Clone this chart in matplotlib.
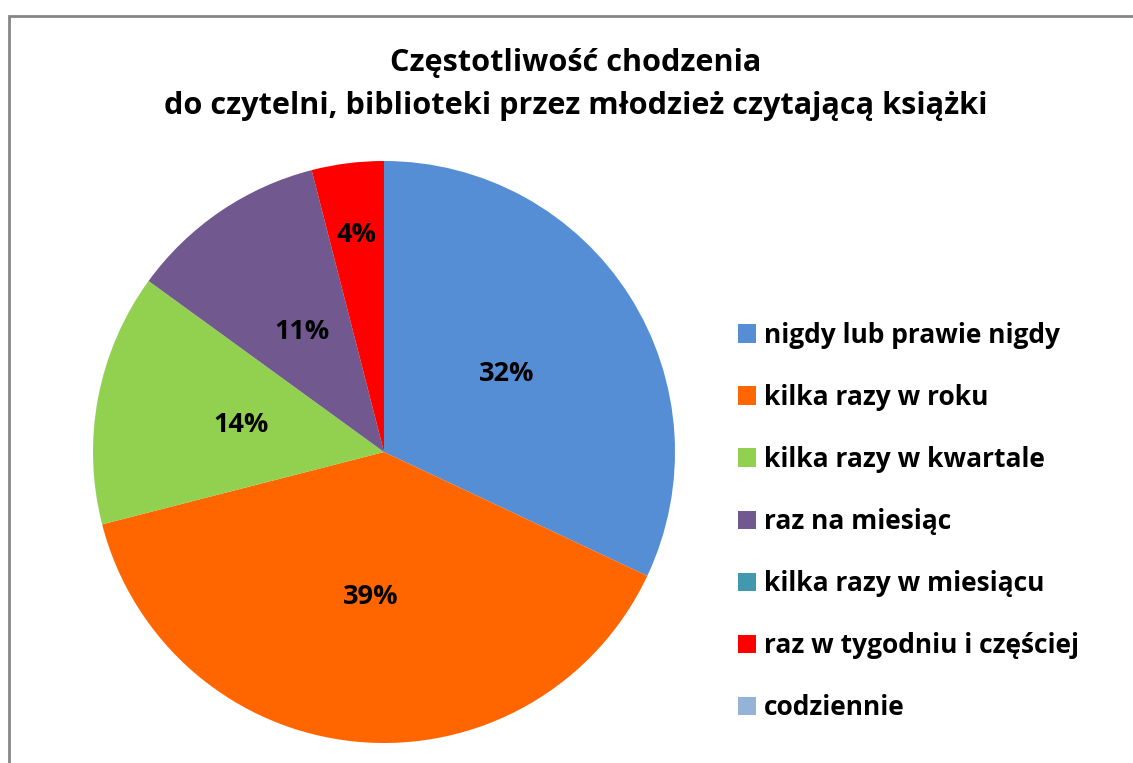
import matplotlib.pyplot as plt
from matplotlib.patches import Patch, Rectangle
import numpy as np

categories = ["nigdy lub prawie nigdy", "kilka razy w roku", "kilka razy w kwartale",
              "raz na miesiąc", "kilka razy w miesiącu", "raz w tygodniu i częściej",
              "codziennie"]
values = [32, 39, 14, 11, 0, 4, 0]
colors = ["#558ED5", "#FF6600", "#92D050", "#71588F", "#4198AF", "#FF0000", "#95B3D7"]
title = "Częstotliwość chodzenia\ndo czytelni, biblioteki przez młodzież czytającą książki"

plt.rcParams["font.family"] = ["Open Sans", "DejaVu Sans"]

W, H = 1133, 763
fig = plt.figure(figsize=(W / 100, H / 100), dpi=100)

# outer frame (only top/left visible in the crop)
fig.patches.append(Rectangle((9 / W, -0.1), 1.2, (H - 16) / H + 0.1,
                             transform=fig.transFigure, fill=False,
                             edgecolor="#868686", linewidth=2))

cx, cy, r = 384, 452, 291
ax = fig.add_axes([(cx - r) / W, (H - cy - r) / H, 2 * r / W, 2 * r / H])
wedges, texts, autotexts = ax.pie(
    values, colors=colors, startangle=90, counterclock=False, radius=1,
    autopct=lambda p: f"{p:.0f}%" if p > 0 else "", pctdistance=0.5,
    textprops=dict(fontsize=19.5, fontweight="bold", color="black"))
ax.set_xlim(-1, 1)
ax.set_ylim(-1, 1)
ax.set_aspect("equal")

# small slice label sits further out
for w, t, v in zip(wedges, autotexts, values):
    if 0 < v < 6:
        ang = np.deg2rad((w.theta1 + w.theta2) / 2)
        t.set_position((0.75 * np.cos(ang), 0.75 * np.sin(ang)))

fig.text(0.508, 1 - 84.5 / H, title, ha="center", va="center", fontsize=22.1,
         fontweight="bold", linespacing=1.6)

handles = [Patch(facecolor=c, edgecolor="none") for c in colors]
fig.legend(handles, categories, loc="upper left", bbox_to_anchor=(714 / W, 1 - 298 / H),
           frameon=False, prop=dict(size=19, weight="bold"), handlelength=0.7,
           handleheight=0.7, handletextpad=0.3, labelspacing=1.33)

fig.savefig("out.png", dpi=100)
